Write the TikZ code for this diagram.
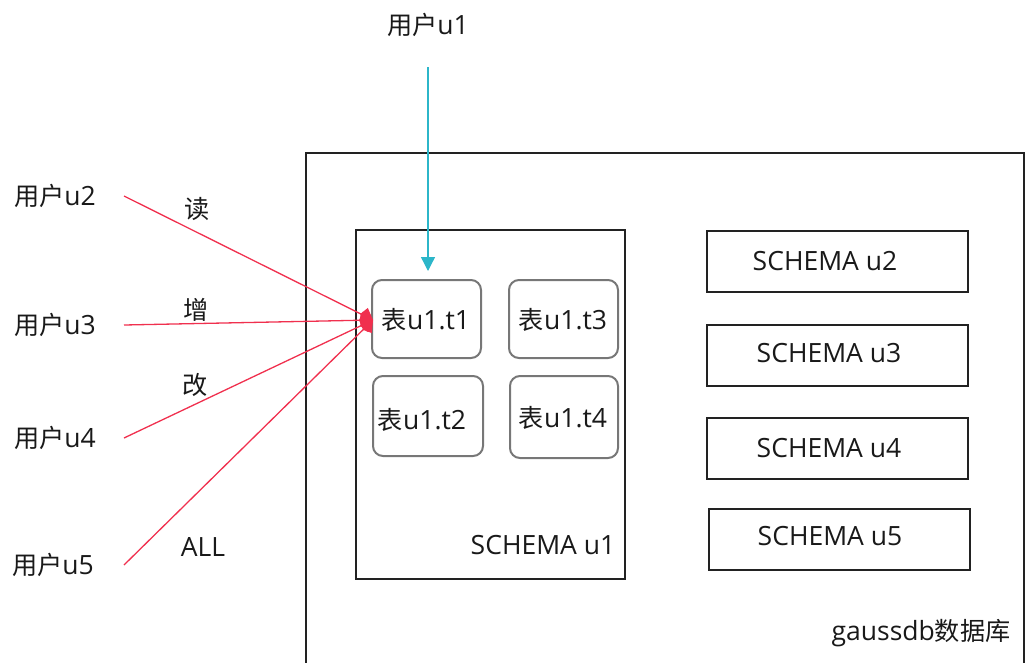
\documentclass[tikz,border=0pt]{standalone}
\usepackage{fontspec}
\setmainfont{Open Sans}
\newfontfamily\cjk{Noto Sans CJK SC}[Scale=0.95]
\usetikzlibrary{arrows.meta}
\definecolor{redline}{HTML}{F0304E}
\definecolor{cyanline}{HTML}{2CB6C9}
\definecolor{boxline}{HTML}{222222}
\definecolor{tblline}{HTML}{777777}
\begin{document}
\begin{tikzpicture}[x=1pt,y=-1pt,
  txt/.style={font=\fontsize{26.5}{30}\selectfont, inner sep=0pt, text=black!90},
  schemabox/.style={draw=boxline, line width=2pt},
  tbl/.style={draw=tblline, line width=2pt, rounded corners=10pt},
  redarrow/.style={draw=redline, line width=1.3pt, -{Kite[length=14pt,width=17pt,inset=4pt]}},
]
\useasboundingbox (0,0) rectangle (1026,662);
\begin{scope}
\clip (0,0) rectangle (1026,662);
\draw[boxline, line width=2pt] (306,700) -- (306,153) -- (1024,153) -- (1024,700);
\end{scope}
% schema u1
\draw[schemabox] (356,230) rectangle (625,579);
\node[txt] (s1) at (543,545) {SCHEMA u1};
% tables
\draw[tbl] (372,280) rectangle (481,358);
\node[txt] (t1) at (426,320) {{\cjk 表}u1.t1};
\draw[tbl] (509,280) rectangle (618,358);
\node[txt] (t3) at (563,320) {{\cjk 表}u1.t3};
\draw[tbl] (373,376) rectangle (483,456);
\node[txt] (t2) at (422,420) {{\cjk 表}u1.t2};
\draw[tbl] (510,376) rectangle (618,458);
\node[txt] (t4) at (563,418) {{\cjk 表}u1.t4};
\coordinate (tgt) at (373,320);
% other schemas
\draw[schemabox] (707,231) rectangle (968,292);
\node[txt] (s2) at (825,261) {SCHEMA u2};
\draw[schemabox] (707,325) rectangle (968,386);
\node[txt] (s3) at (829,353) {SCHEMA u3};
\draw[schemabox] (707,418) rectangle (968,479);
\node[txt] (s4) at (829,448) {SCHEMA u4};
\draw[schemabox] (709,509) rectangle (970,570);
\node[txt] (s5) at (830,536) {SCHEMA u5};
\node[txt] (db) at (921,633) {gaussdb{\cjk 数据库}};
% users
\node[txt] (u1) at (428,25) {{\cjk 用户}u1};
\node[txt] (u2) at (55,196) {{\cjk 用户}u2};
\node[txt] (u3) at (55,325) {{\cjk 用户}u3};
\node[txt] (u4) at (55,438) {{\cjk 用户}u4};
\node[txt] (u5) at (53,565) {{\cjk 用户}u5};
\coordinate (u1s) at (428,67);
\coordinate (u1e) at (428,271);
\draw[cyanline, line width=1.3pt, -{Triangle[length=14pt,width=14pt]}] (u1s) -- (u1e);
\coordinate (u2s) at (124,196);
\coordinate (u3s) at (124,325);
\coordinate (u4s) at (124,438);
\coordinate (u5s) at (124,565);
\draw[redarrow] (u2s) -- (tgt);
\draw[redarrow] (u3s) -- (tgt);
\draw[redarrow] (u4s) -- (tgt);
\draw[redarrow] (u5s) -- (tgt);
\node[txt] (l1) at (197,209) {{\cjk 读}};
\node[txt] (l2) at (196,310) {{\cjk 增}};
\node[txt] (l3) at (195,385) {{\cjk 改}};
\node[txt] (l4) at (203,547) {ALL};
\end{tikzpicture}
\end{document}
